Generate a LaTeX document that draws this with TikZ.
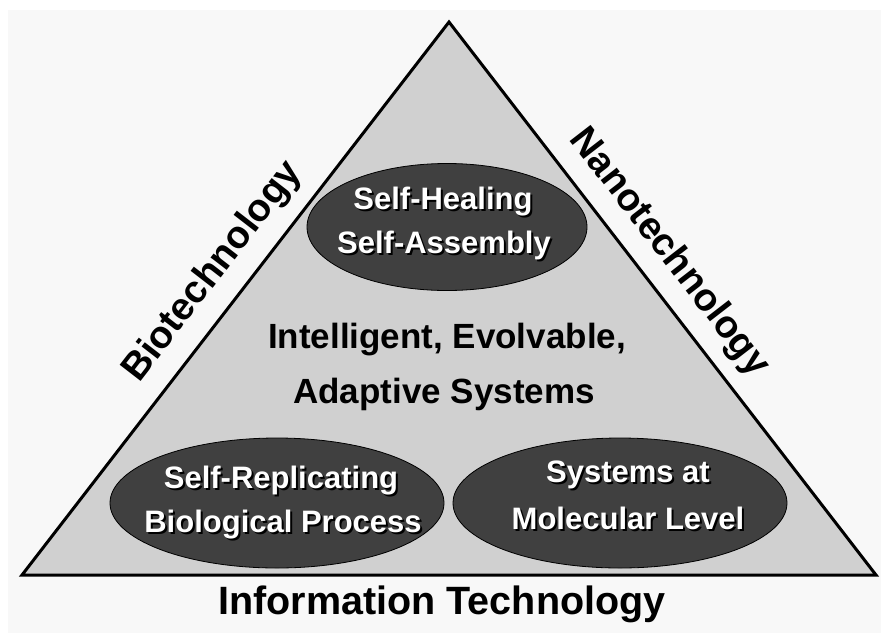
\documentclass[tikz,border=0pt]{standalone}
\usepackage{fontspec}
\setmainfont{Liberation Sans}
\usetikzlibrary{shapes.geometric}
\definecolor{bgray}{HTML}{F8F8F8}
\definecolor{trifill}{HTML}{D0D0D0}
\definecolor{ellfill}{HTML}{404040}
\newcommand\shtxt[1]{\makebox[0pt][l]{\hspace{2pt}\raisebox{-2pt}{\color{black}#1}}{\color{white}#1}}
\begin{document}
\begin{tikzpicture}[x=1pt,y=-1pt,
  ell/.style={ellipse, draw=black, line width=0.8pt, fill=ellfill, inner sep=0pt},
  etext/.style={anchor=base, inner sep=0pt, font=\fontsize{31}{36}\selectfont\bfseries},
  ctext/.style={anchor=base, inner sep=0pt, font=\fontsize{35}{40}\selectfont\bfseries, text=black},
  side/.style={inner sep=0pt, font=\fontsize{38.5}{42}\selectfont\bfseries, text=black}]
\useasboundingbox (0,0) rectangle (881,633);
\fill[white] (0,0) rectangle (881,633);
\fill[bgray] (8,10) rectangle (881,633);
\coordinate (apex) at (449,22);
\coordinate (bl) at (22,575);
\coordinate (br) at (876,575);
\draw[line width=3pt, fill=trifill, line join=miter] (apex) -- (bl) -- (br) -- cycle;
\node[ell, minimum width=280, minimum height=127] (heal) at (447,227) {};
\node[ell, minimum width=334, minimum height=130] (repl) at (277,503) {};
\node[ell, minimum width=334, minimum height=130] (mol) at (620,503) {};
\node[etext] (heal1) at (443,209) {\shtxt{Self-Healing}};
\node[etext] (heal2) at (444,253) {\shtxt{Self-Assembly}};
\node[etext] (repl1) at (281,488) {\shtxt{Self-Replicating}};
\node[etext] (repl2) at (283,532) {\shtxt{Biological Process}};
\node[etext] (mol1) at (628,482) {\shtxt{Systems at}};
\node[etext] (mol2) at (628,529) {\shtxt{Molecular Level}};
\node[ctext] (c1) at (447,348) {Intelligent, Evolvable,};
\node[ctext] (c2) at (444,403) {Adaptive Systems};
\node[side, rotate=52.3] (bio) at (213,272) {Biotechnology};
\node[side, rotate=-52.3] (nano) at (669,253) {Nanotechnology};
\node[anchor=base, inner sep=0pt, font=\fontsize{39.5}{44}\selectfont\bfseries] (info) at (442,614) {Information Technology};
\end{tikzpicture}
\end{document}
